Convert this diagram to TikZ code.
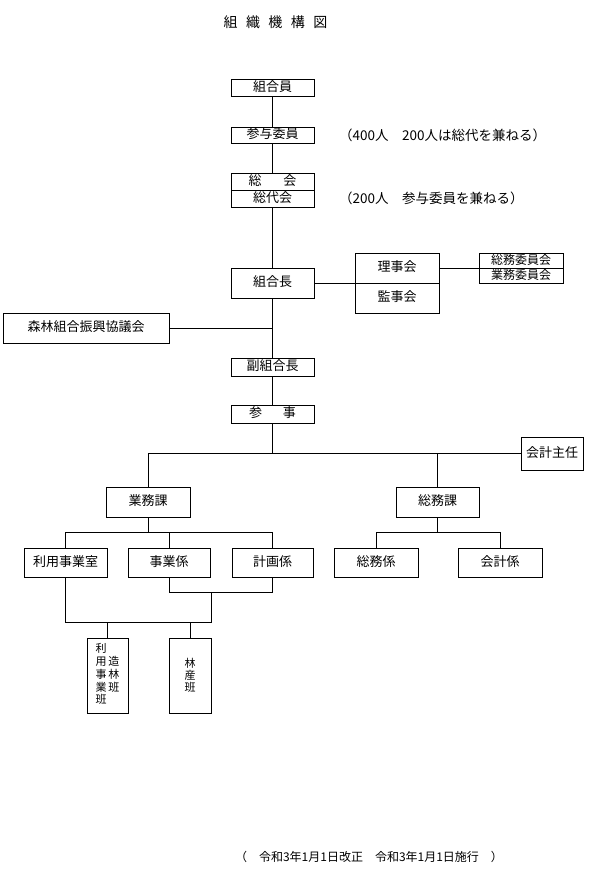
\documentclass[tikz,border=0pt]{standalone}
\usepackage{fontspec}
\setmainfont{Noto Sans CJK JP}
\begin{document}
\begin{tikzpicture}[x=1pt,y=-1pt,
  box/.style={draw, line width=0.8pt, inner sep=0pt, anchor=center, font=\fontsize{13}{15}\selectfont},
  onebox/.style={box, text height=0.88em, text depth=0.12em},
  smallbox/.style={onebox, font=\fontsize{12}{14}\selectfont},
  conn/.style={line width=0.8pt},
  note/.style={anchor=west, inner sep=0pt, font=\fontsize{13.5}{15}\selectfont}]
\fill[white] (0,0) rectangle (590,878);
\useasboundingbox (0,0) rectangle (590,878);
% title
\node[inner sep=0pt, font=\fontsize{14}{16}\selectfont] (title) at (275.5,22) {組\hspace{8.5pt}織\hspace{8.5pt}機\hspace{8.5pt}構\hspace{8.5pt}図};
% top chain
\node[onebox, minimum width=83pt, minimum height=17pt] (kumiaiin) at (272.5,87.5) {組合員};
\node[onebox, minimum width=83pt, minimum height=16pt] (sanyo) at (272.5,135) {参与委員};
\node[note] (note1) at (339,135) {（400人　200人は総代を兼ねる）};
\node[onebox, minimum width=83pt, minimum height=17pt] (sokai) at (272.5,181.5) {総\hspace{22pt}会};
\node[onebox, minimum width=83pt, minimum height=17pt] (sodaikai) at (272.5,198.5) {総代会};
\node[note] (note2) at (339,198.5) {（200人　参与委員を兼ねる）};
\node[onebox, minimum width=83pt, minimum height=30pt] (kumiaicho) at (272.5,283) {組合長};
\node[onebox, minimum width=84pt, minimum height=30pt] (rijikai) at (397,268) {理事会};
\node[onebox, minimum width=84pt, minimum height=30pt] (kanjikai) at (397,298) {監事会};
\node[smallbox, minimum width=84pt, minimum height=15pt] (somuiin) at (521,260.5) {総務委員会};
\node[smallbox, minimum width=84pt, minimum height=15pt] (gyomuiin) at (521,275.5) {業務委員会};
\node[onebox, minimum width=166pt, minimum height=30pt] (shinko) at (86,328) {森林組合振興協議会};
\node[onebox, minimum width=83pt, minimum height=18pt] (fuku) at (272.5,367) {副組合長};
\node[onebox, minimum width=83pt, minimum height=18pt] (sanji) at (272.5,414) {参\hspace{21pt}事};
\node[onebox, minimum width=62pt, minimum height=33pt] (kaikeishunin) at (552,453.5) {会計主任};
\node[onebox, minimum width=84pt, minimum height=30pt] (gyomuka) at (148,502) {業務課};
\node[onebox, minimum width=83pt, minimum height=30pt] (somuka) at (437.5,502) {総務課};
\node[onebox, minimum width=83pt, minimum height=29pt] (riyoshitsu) at (65.5,562.5) {利用事業室};
\node[onebox, minimum width=82pt, minimum height=29pt] (jigyo) at (169,562.5) {事業係};
\node[onebox, minimum width=81pt, minimum height=29pt] (keikaku) at (272.5,562.5) {計画係};
\node[onebox, minimum width=84pt, minimum height=29pt] (somukakari) at (376,562.5) {総務係};
\node[onebox, minimum width=84pt, minimum height=29pt] (kaikeikakari) at (500,562.5) {会計係};
\node[box, minimum width=41pt, minimum height=75pt, font=\fontsize{11}{12}\selectfont] (riyohan) at (107.5,675.5)
  {\begin{tabular}{@{}l@{\hspace{2pt}}l@{}}利 & \\ 用 & 造\\ 事 & 林\\ 業 & 班\\ 班 & \end{tabular}};
\node[box, minimum width=42pt, minimum height=75pt, font=\fontsize{11}{12}\selectfont, align=center] (rinsan) at (190,675.5) {林\\産\\班};
\node[inner sep=0pt, font=\fontsize{12}{14}\selectfont] (footer) at (369,857) {（　令和3年1月1日改正　令和3年1月1日施行　）};
% coordinates
\coordinate (b1) at (272.5,453.5);
\coordinate (b2) at (148,532);
\coordinate (b3) at (437.5,532);
\coordinate (b4) at (211,592);
\coordinate (b5) at (211,622);
% connectors
\draw[conn] (kumiaiin.south) -- (sanyo.north);
\draw[conn] (sanyo.south) -- (sokai.north);
\draw[conn] (sodaikai.south) -- (kumiaicho.north);
\draw[conn] (kumiaicho.south) -- (fuku.north);
\draw[conn] (shinko.east) -- (shinko.east -| kumiaicho.south);
\draw[conn] (kumiaicho.east) -- (kumiaicho.east -| rijikai.west);
\draw[conn] (rijikai.east) -- (rijikai.east -| somuiin.west);
\draw[conn] (fuku.south) -- (sanji.north);
\draw[conn] (sanji.south) -- (b1);
\draw[conn] (gyomuka.north) |- (kaikeishunin.west);
\draw[conn] (somuka.north) -- (somuka.north |- kaikeishunin.west);
\draw[conn] (gyomuka.south) -- (b2);
\draw[conn] (riyoshitsu.north) |- (keikaku.north |- b2) -- (keikaku.north);
\draw[conn] (jigyo.north) -- (jigyo.north |- b2);
\draw[conn] (somuka.south) -- (b3);
\draw[conn] (somukakari.north) |- (kaikeikakari.north |- b3) -- (kaikeikakari.north);
\draw[conn] (jigyo.south) |- (keikaku.south |- b4) -- (keikaku.south);
\draw[conn] (riyoshitsu.south) |- (b5) -- (b4);
\draw[conn] (riyohan.north) -- (riyohan.north |- b5);
\draw[conn] (rinsan.north) -- (rinsan.north |- b5);
\end{tikzpicture}
\end{document}
